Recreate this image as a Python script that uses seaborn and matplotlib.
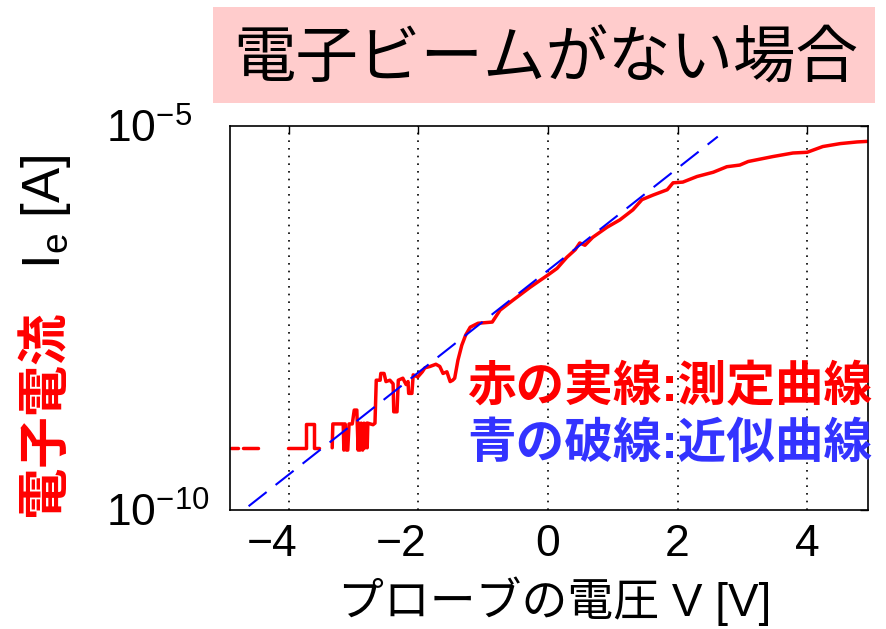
import math
import matplotlib
matplotlib.use("Agg")
import matplotlib.pyplot as plt
import matplotlib.transforms as mtransforms
from matplotlib.patches import Rectangle
from matplotlib.ticker import FuncFormatter, NullLocator
import seaborn as sns
import pandas as pd

# measured probe current (red), split into pieces where the trace has gaps
seg0_v = [-4.89, -4.78]
seg0_i = [6.46e-10, 6.46e-10]
seg1_v = [-4.71, -4.48]
seg1_i = [6.46e-10, 6.46e-10]
seg2_v = [-4.01, -3.73, -3.73, -3.61, -3.61, -3.53]
seg2_i = [6.46e-10, 6.46e-10, 1.32e-9, 1.32e-9, 6.46e-10, 6.46e-10]
seg3_v = [-3.33, -3.32, -3.16, -3.15, -3.13, -3.11, -3.09, -3.07, -3.02, -2.99,
          -2.95, -2.93, -2.91, -2.90, -2.88, -2.86, -2.84, -2.82, -2.80, -2.79,
          -2.78, -2.70, -2.67, -2.65, -2.59,
          -2.58, -2.53, -2.50, -2.44, -2.39, -2.38, -2.33, -2.31, -2.24, -2.19,
          -2.16, -2.15, -2.10, -2.08, -2.01, -1.94, -1.90, -1.82, -1.73, -1.67,
          -1.62, -1.56, -1.51, -1.47, -1.44, -1.39, -1.33, -1.27, -1.20, -1.08,
          -0.86, -0.74, -0.54, -0.28, -0.12, 0.00, 0.14, 0.29, 0.42, 0.49,
          0.57, 0.69, 0.91, 1.11, 1.31, 1.45, 1.62, 1.84, 1.93, 2.08,
          2.30, 2.55, 2.76, 2.96, 3.09, 3.47, 3.78, 4.00, 4.24, 4.51,
          4.77, 4.92]
seg3_i = [6.46e-10, 1.32e-9, 1.32e-9, 6.03e-10, 1.32e-9, 6.03e-10, 6.03e-10, 1.32e-9, 1.32e-9, 2.0e-9,
          2.0e-9, 6.03e-10, 1.35e-9, 6.03e-10, 1.35e-9, 6.03e-10, 1.35e-9, 6.46e-10, 1.35e-9, 6.46e-10,
          1.35e-9, 1.29e-9, 1.35e-9, 4.9e-9, 4.9e-9,
          6.0e-9, 6.0e-9, 4.7e-9, 4.9e-9, 4.4e-9, 1.9e-9, 1.9e-9, 4.9e-9, 5.2e-9, 4.3e-9,
          4.7e-9, 3.3e-9, 3.3e-9, 5.75e-9, 5.4e-9, 6.3e-9, 7.1e-9, 7.4e-9, 7.9e-9, 7.4e-9,
          6.0e-9, 6.3e-9, 4.7e-9, 4.9e-9, 5.2e-9, 8.9e-9, 1.4e-8, 1.9e-8, 2.4e-8, 2.7e-8,
          2.8e-8, 4.0e-8, 5.4e-8, 7.9e-8, 9.8e-8, 1.15e-7, 1.4e-7, 1.95e-7, 2.45e-7, 3.0e-7,
          2.8e-7, 3.55e-7, 4.8e-7, 6.0e-7, 8.1e-7, 1.1e-6, 1.26e-6, 1.48e-6, 1.82e-6, 1.86e-6,
          2.2e-6, 2.5e-6, 2.95e-6, 3.1e-6, 3.45e-6, 4.0e-6, 4.45e-6, 4.55e-6, 5.4e-6, 5.9e-6,
          6.2e-6, 6.3e-6]

# fitted exponential (blue dashed), end points of the fit
fit_v = [-4.62, 2.62]
fit_i = [1.12e-10, 7.28e-6]

x_ticks = [-4, -2, 0, 2, 4]
y_ticks = [1e-10, 1e-5]

rows = []
for k, (vs, cs) in enumerate([(seg0_v, seg0_i), (seg1_v, seg1_i),
                              (seg2_v, seg2_i), (seg3_v, seg3_i)]):
    for v, c in zip(vs, cs):
        rows.append((k, v, c))
probe = pd.DataFrame(rows, columns=["seg", "V", "I"])
fit = pd.DataFrame({"V": fit_v, "I": fit_i})

sns.set_style("white")
plt.rcParams["font.family"] = ["Liberation Sans", "Noto Sans CJK JP", "DejaVu Sans"]
plt.rcParams["mathtext.fontset"] = "custom"
plt.rcParams["mathtext.rm"] = "Liberation Sans"
plt.rcParams["mathtext.it"] = "Liberation Sans"
plt.rcParams["text.color"] = "black"

W, H = 887, 629
fig = plt.figure(figsize=(W / 100, H / 100), dpi=100)
ax = fig.add_axes([230 / W, 1 - 510 / H, 638 / W, 384 / H])

sns.lineplot(data=probe, x="V", y="I", units="seg", estimator=None, sort=False,
             color="red", lw=2.5, ax=ax)
sns.lineplot(data=fit, x="V", y="I", color="blue", lw=1.5,
             linestyle=(0, (11, 5.5)), ax=ax)

ax.set_yscale("log")
ax.set_xlim(-4.907, 4.938)
ax.set_ylim(1e-10, 1e-5)
ax.set_xticks(x_ticks)
ax.set_xticklabels([f"{t}".replace("-", "\u2212") for t in x_ticks])
ax.set_yticks(y_ticks)
ax.yaxis.set_major_formatter(FuncFormatter(
    lambda y, pos: r"$\mathdefault{10^{%d}}$" % round(math.log10(y))))
ax.yaxis.set_minor_locator(NullLocator())
ax.set_xlabel("")
ax.set_ylabel("")

ax.xaxis.grid(True, color="black", linestyle=(0, (1, 3.6)), lw=1.2)
ax.yaxis.grid(False)
for s in ax.spines.values():
    s.set_color("black")
    s.set_linewidth(1.2)
ax.tick_params(axis="both", which="major", direction="in", top=True, right=True,
               length=5.5, width=1.0, labelsize=32, colors="black")
ax.tick_params(axis="x", pad=10)
ax.tick_params(axis="y", pad=89)
for lab in ax.get_yticklabels():
    lab.set_horizontalalignment("left")
# MATLAB style: digit sits on the tick, minus sign hangs to the left
shift = mtransforms.ScaledTranslation(-17 / 100, 0, fig.dpi_scale_trans)
for t, lab in zip(x_ticks, ax.get_xticklabels()):
    if t < 0:
        lab.set_transform(lab.get_transform() + shift)

# title box
fig.patches.append(Rectangle((213 / W, 1 - 103 / H), 662 / W, 96 / H,
                             transform=fig.transFigure, facecolor="#ffcccc",
                             edgecolor="none", zorder=0))
fig.text(546 / W, 1 - 60 / H, "電子ビームがない場合", ha="center", va="center",
         fontsize=45, color="black", family=["Noto Sans CJK JP"])

# axis labels
fig.text(555 / W, 1 - 601 / H, "プローブの電圧 V [V]", ha="center", va="center",
         fontsize=33, color="black")
fig.text(43 / W, 1 - 413 / H, "電子電流", rotation=90, ha="center", va="center",
         fontsize=37, color="red", fontweight="bold", family=["Noto Sans CJK JP"])
fig.text(46 / W, 1 - 212 / H, r"I$_\mathdefault{e}$ [A]", rotation=90, ha="center",
         va="center", fontsize=38, color="black")

# legend notes
fig.text(872 / W, 1 - 388 / H, "赤の実線:測定曲線", ha="right", va="center",
         fontsize=35, color="red", fontweight="bold")
fig.text(872 / W, 1 - 445 / H, "青の破線:近似曲線", ha="right", va="center",
         fontsize=35, color="#3333ff", fontweight="bold")

fig.savefig("out.png", dpi=100)
plt.close(fig)
